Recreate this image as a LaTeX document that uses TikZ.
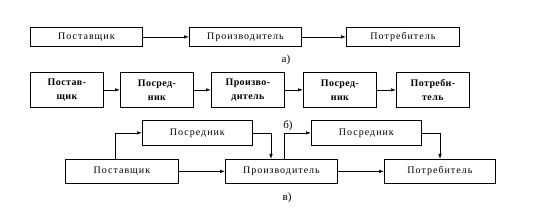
\documentclass[tikz,border=0pt]{standalone}
\usepackage{fontspec}
\setmainfont{Liberation Serif}
\newfontfamily\spaced[LetterSpace=10]{Liberation Serif}
\newfontfamily\spacedb[LetterSpace=4]{Liberation Serif}
\usetikzlibrary{arrows.meta}
\begin{document}
\begin{tikzpicture}[x=1pt,y=-1pt,
  box/.style={draw=black,line width=0.8pt,minimum height=19pt,font=\spaced\fontsize{10}{12}\selectfont,inner sep=0pt,anchor=north west},
  boxb/.style={draw=black,line width=0.8pt,minimum height=35pt,minimum width=73pt,font=\spacedb\bfseries\fontsize{10}{14}\selectfont,inner sep=0pt,align=center,anchor=north west},
  arr/.style={line width=0.7pt,-{Latex[length=5pt,width=3.5pt]}},
  lbl/.style={font=\fontsize{11}{13}\selectfont,inner sep=0pt}]
\useasboundingbox (0,0) rectangle (540,221);
% a)
\node[box,minimum width=112pt] (a1) at (30,27) {Поставщик};
\node[box,minimum width=112pt] (a2) at (189,27) {Производитель};
\node[box,minimum width=113pt] (a3) at (346,27) {Потребитель};
\draw[arr] (a1) -- (a2);
\draw[arr] (a2) -- (a3);
\node[lbl] (la) at (286,60) {а)};
% b)
\node[boxb] (b1) at (30,72) {Постав-\\щик};
\node[boxb] (b2) at (120,72) {Посред-\\ник};
\node[boxb] (b3) at (211,72) {Произво-\\дитель};
\node[boxb] (b4) at (303,72) {Посред-\\ник};
\node[boxb] (b5) at (396,72) {Потреби-\\тель};
\draw[arr] (b1) -- (b2);
\draw[arr] (b2) -- (b3);
\draw[arr] (b3) -- (b4);
\draw[arr] (b4) -- (b5);
\node[lbl] (lb) at (288,126) {б)};
% c)
\node[box,minimum width=110pt,minimum height=25pt] (m1) at (142,120) {Посредник};
\node[box,minimum width=110pt,minimum height=25pt] (m2) at (311,120) {Посредник};
\node[box,minimum width=113pt,minimum height=24pt] (c1) at (65,159) {Поставщик};
\node[box,minimum width=112pt,minimum height=24pt] (c2) at (225,159) {Производитель};
\node[box,minimum width=111pt,minimum height=24pt] (c3) at (384,159) {Потребитель};
\draw[arr] ([xshift=50pt]c1.north west) |- (m1.west);
\draw[arr] (m1.east) -| ([xshift=46pt]c2.north west);
\draw[arr] ([xshift=59pt]c2.north west) |- (m2.west);
\draw[arr] (m2.east) -| ([xshift=56pt]c3.north west);
\draw[arr] (c1) -- (c2);
\draw[arr] (c2) -- (c3);
\node[lbl] (lc) at (287,198) {в)};
\end{tikzpicture}
\end{document}
